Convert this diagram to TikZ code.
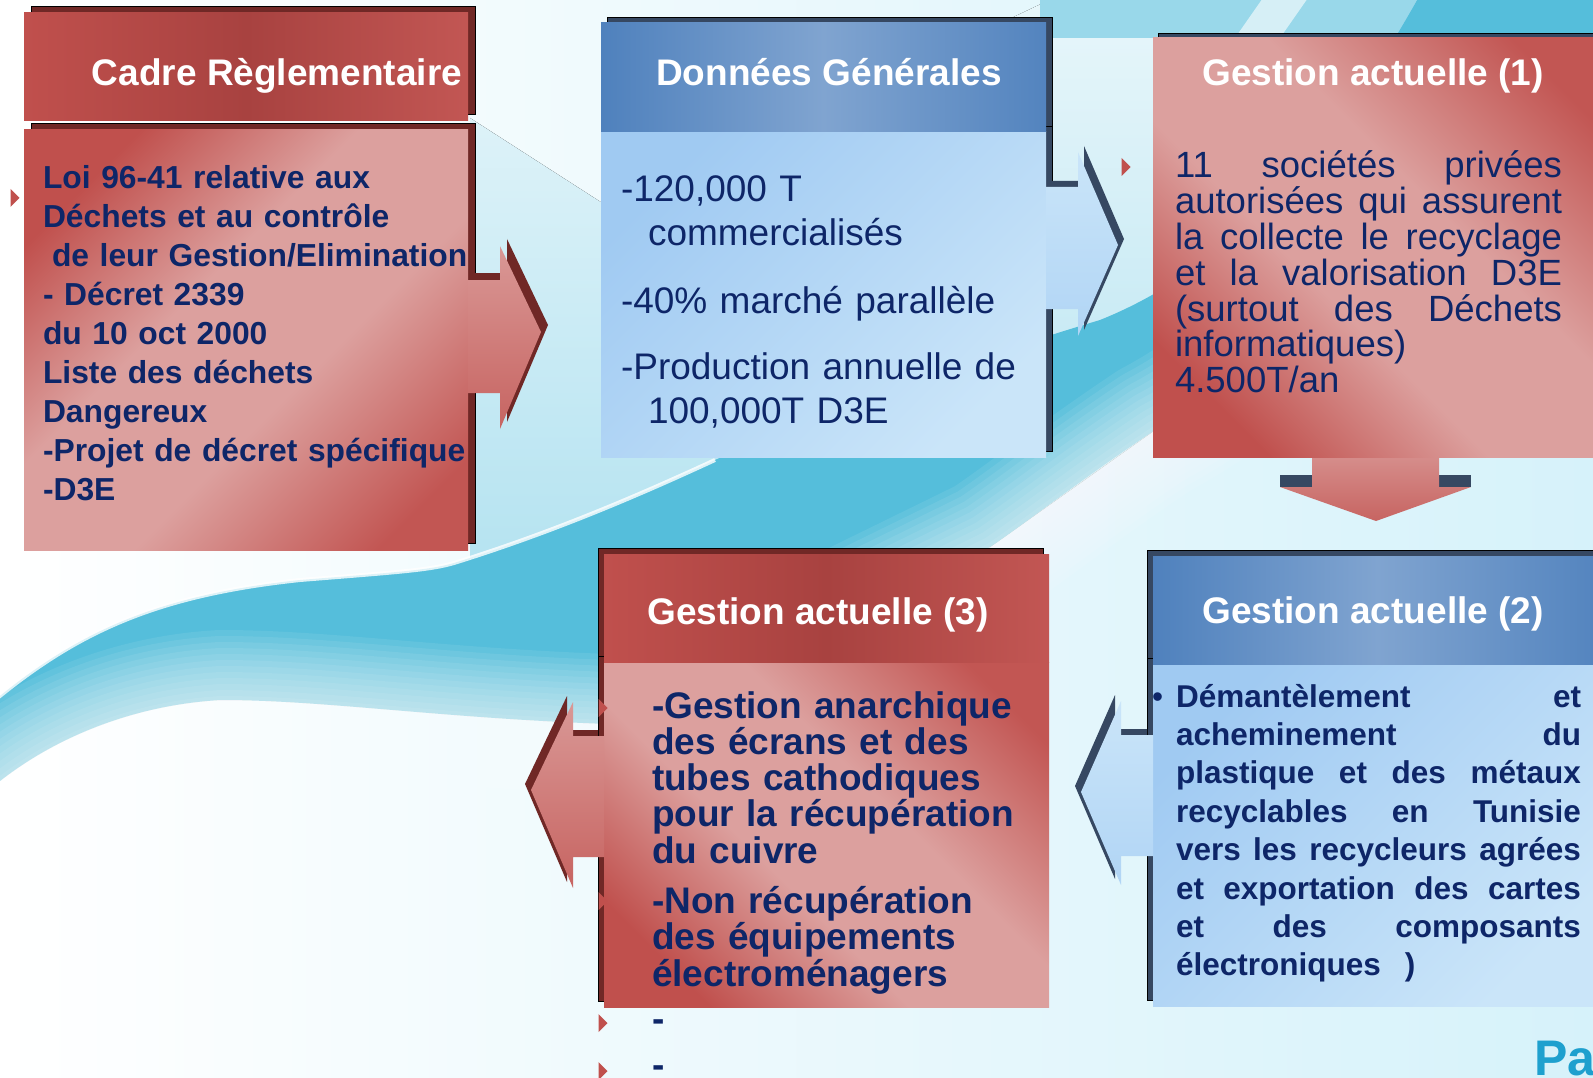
\documentclass[tikz,border=0pt]{standalone}
\usepackage{fontspec}
\setmainfont{Liberation Sans}
\usetikzlibrary{shadows}
\definecolor{navy}{RGB}{14,38,104}
\definecolor{redA}{RGB}{192,80,77}
\definecolor{redB}{RGB}{220,160,158}
\definecolor{redC}{RGB}{168,66,64}
\definecolor{redD}{RGB}{112,40,38}
\definecolor{bluA}{RGB}{79,129,189}
\definecolor{bluB}{RGB}{128,164,208}
\definecolor{bluC}{RGB}{160,202,242}
\definecolor{bluD}{RGB}{202,229,249}
\definecolor{slate}{RGB}{54,72,98}
\definecolor{seaA}{RGB}{70,184,216}
\definecolor{seaB}{RGB}{178,226,240}
\definecolor{skyL}{RGB}{214,242,250}
\definecolor{paBlue}{RGB}{30,160,206}
\pgfdeclarehorizontalshading{rosy}{100bp}{color(0bp)=(redA); color(24bp)=(redA); color(42bp)=(redB); color(58bp)=(redB); color(78bp)=(redA!92!redB); color(100bp)=(redA!92!redB)}
\begin{document}
\begin{tikzpicture}
	[x=1pt,y=-1pt,every node/.style={inner sep=0pt,outer sep=0pt},
	face/.style={rectangle,anchor=north west},
	redtop/.style={face,left color=redA,right color=redA!92!redB,middle color=redC},
	redbody/.style={face,shade,shading=rosy,shading angle=-45},
	redbodyb/.style={face,shade,shading=rosy,shading angle=45},
	bluetop/.style={face,left color=bluA,right color=bluA!92!bluB,middle color=bluB},
	bluebody/.style={face,left color=bluC,right color=bluD,shading angle=45},
	redne/.style={copy shadow={shadow xshift=7pt,shadow yshift=7pt,fill=redD}},
	slatene/.style={copy shadow={shadow xshift=6pt,shadow yshift=6pt,fill=slate}},
	rednw/.style={copy shadow={shadow xshift=-6pt,shadow yshift=6pt,fill=redD}},
	slatenw/.style={copy shadow={shadow xshift=-6pt,shadow yshift=6pt,fill=slate}},
	redarrow/.style={top color=redB!90!redA,bottom color=redA!75!redB},
	bluearrow/.style={top color=bluD,bottom color=bluC!60!bluD},
	hd/.style={anchor=base,text=white,font=\fontsize{37}{40}\selectfont\bfseries},
	lawtxt/.style={anchor=base west,text=navy,align=left,text width=430pt,font=\fontsize{31.8}{39}\selectfont\bfseries},
	datatxt/.style={anchor=base west,text=navy,align=left,text width=425pt,font=\fontsize{37}{44}\selectfont},
	gestA/.style={anchor=base west,text=navy,align=left,text width=390pt,font=\fontsize{36.5}{35.8}\selectfont},
	gestB/.style={anchor=base west,text=navy,align=left,text width=410pt,font=\fontsize{31.5}{38.4}\selectfont\bfseries},
	gestC/.style={anchor=base west,text=navy,align=left,text width=395pt,font=\fontsize{37}{36.3}\selectfont\bfseries},
	bulred/.style={fill=redA}]
	\useasboundingbox (0,0) rectangle (1593,1078);
	\clip (0,0) rectangle (1593,1078);
	
	\fill[left color=white,right color=skyL] (0,0) rectangle (1593,1078);
	\fill[top color=seaB!30,bottom color=seaB] (470,118) -- (610,208) -- (1060,-5) -- (1600,-5) -- (1600,100)
		-- (1155,430) -- (990,547) -- (470,600) -- cycle;
	\fill[seaA!55] (1040,-5) rectangle (1600,38);
	\fill[white,opacity=.6] (1265,-5) -- (1310,-5) -- (1280,38) -- (1235,38) -- cycle;
	\fill[white,opacity=.5] (1500,-5) -- (1560,-5) -- (1530,38) -- (1470,38) -- cycle;
	\fill[seaA!92] (-5,700) .. controls (80,630) and (160,595) .. (300,580)
		.. controls (400,572) and (430,570) .. (454,563) .. controls (560,530) and (650,490) .. (715,460)
		.. controls (850,400) and (1000,350) .. (1100,320) .. controls (1250,260) and (1350,120) .. (1420,-5)
		-- (1600,-5) -- (1600,100) .. controls (1400,250) and (1250,380) .. (1155,430)
		.. controls (1080,480) and (1030,520) .. (990,547) -- (800,640) -- (640,725)
		.. controls (450,720) and (330,700) .. (221,700) .. controls (130,705) and (50,740) .. (-5,785) -- cycle;
	\foreach \lw in {140,128,...,8}
		\draw[white,opacity=.08,line width=\lw pt,line join=round] (1600,100) .. controls (1400,250) and (1250,380) .. (1155,430)
			.. controls (1080,480) and (1030,520) .. (990,547) -- (800,640) -- (640,725)
			.. controls (450,720) and (330,700) .. (221,700) .. controls (130,705) and (50,740) .. (-5,785);
	\draw[white,line width=4pt,opacity=.8] (-5,700) .. controls (80,630) and (160,595) .. (300,580)
		.. controls (400,572) and (430,570) .. (454,563) .. controls (560,530) and (650,490) .. (715,460);
	
	\fill[slate] (1280,475) rectangle (1471,487);
	\path[redarrow] (1312,440) -- (1439,440) -- (1439,487) -- (1471,487) -- (1376,521) -- (1280,487) -- (1312,487) -- cycle;
	
	\node[redtop,redne,minimum width=444pt,minimum height=108pt] (h1) at (24,13) {};
	\node[redbody,redne,minimum width=444pt,minimum height=420pt] (b1) at (24,130) {};
	\node[bluebody,slatene,minimum width=445pt,minimum height=325pt] (b2) at (601,132) {};
	\node[bluetop,slatene,minimum width=445pt,minimum height=109pt] (h2) at (601,23) {};
	\node[redbodyb,copy shadow={shadow xshift=5pt,shadow yshift=5pt,fill=slate},minimum width=449pt,minimum height=419pt] (g1) at (1153,38) {};
	\node[redbodyb,rednw,minimum width=445pt,minimum height=345pt] (b4) at (604,662) {};
	\node[redtop,rednw,minimum width=445pt,minimum height=108pt] (h4) at (604,554) {};
	\node[bluebody,slatenw,minimum width=449pt,minimum height=342pt] (b5) at (1153,664) {};
	\node[bluetop,slatenw,minimum width=449pt,minimum height=108pt] (h5) at (1153,556) {};
	
	\path[redarrow,preaction={fill=redD,transform canvas={xshift=7pt,yshift=7pt}}]
		(b1.east |- 0,280) -- (500,280) -- (500,246) -- (541,332) -- (500,429) -- (500,393) -- (b1.east |- 0,393) -- cycle;
	\path[bluearrow,preaction={fill=slate,transform canvas={xshift=6pt,yshift=6pt}}]
		(b2.east |- 0,187) -- (1078,187) -- (1078,152) -- (1118,245) -- (1078,336) -- (1078,309) -- (b2.east |- 0,309) -- cycle;
	\path[redarrow,preaction={fill=redD,transform canvas={xshift=-6pt,yshift=6pt}}]
		(b4.west |- 0,736) -- (573,736) -- (573,702) -- (531,790) -- (573,888) -- (573,857) -- (b4.west |- 0,857) -- cycle;
	\path[bluearrow,preaction={fill=slate,transform canvas={xshift=-6pt,yshift=6pt}}]
		(b5.west |- 0,735) -- (1121,735) -- (1121,701) -- (1081,792) -- (1121,885) -- (1121,856) -- (b5.west |- 0,856) -- cycle;
	
	\node[hd] (t1) at (277,86) {Cadre Règlementaire};
	\node[hd] (t2) at (829,86) {Données Générales};
	\node[hd] (t3) at (1373,86) {Gestion actuelle (1)};
	\node[hd] (t4) at (818,624) {Gestion actuelle (3)};
	\node[hd] (t5) at (1373,623) {Gestion actuelle (2)};
	
	\node[lawtxt] (x1) at (43,189) {Loi 96-41 relative aux\\
		Déchets et au contrôle\\
		\hspace*{9pt}de leur Gestion/Elimination\\
		- Décret 2339\\
		du 10 oct 2000\\
		Liste des déchets\\
		Dangereux\\
		-Projet de décret spécifique\\
		-D3E};
	\node[datatxt] (x2) at (621,202) {-120,000 T\\
		\hspace*{27pt}commercialisés\\[24pt]
		-40\% marché parallèle\\[22pt]
		-Production annuelle de\\
		\hspace*{27pt}100,000T D3E};
	\node[gestA] (x3) at (1175,178) {\makebox[387pt]{11\hfill sociétés\hfill privées}\\
		\makebox[387pt]{autorisées\hfill qui\hfill assurent}\\
		\makebox[387pt]{la\hfill collecte\hfill le\hfill recyclage}\\
		\makebox[387pt]{et\hfill la\hfill valorisation\hfill D3E}\\
		\makebox[387pt]{(surtout\hfill des\hfill Déchets}\\
		informatiques)\\
		4.500T/an};
	\node[gestC] (x4) at (652,718) {-Gestion anarchique\\
		des écrans et des\\
		tubes cathodiques\\
		pour la récupération\\
		du cuivre\\[14pt]
		-Non récupération\\
		des équipements\\
		électroménagers};
	\node[anchor=base west,text=navy,font=\fontsize{31.5}{38}\selectfont] (dot5) at (1152,707) {•};
	\node[gestB] (x5) at (1176,707) {\makebox[405pt]{Démantèlement\hfill et}\\
		\makebox[405pt]{acheminement\hfill du}\\
		\makebox[405pt]{plastique\hfill et\hfill des\hfill métaux}\\
		\makebox[405pt]{recyclables\hfill en\hfill Tunisie}\\
		\makebox[405pt]{vers\hfill les\hfill recycleurs\hfill agrées}\\
		\makebox[405pt]{et\hfill exportation\hfill des\hfill cartes}\\
		\makebox[405pt]{et\hfill des\hfill composants}\\
		électroniques\hspace{24pt})};
	
	\foreach \bx/\by in {15/198,1126/167,603/708,603/901,603/1023,603/1071}
		\fill[bulred] (\bx-4.5,\by-9) -- (\bx+4.5,\by) -- (\bx-4.5,\by+9) -- cycle;
	\node[anchor=base west,text=navy,font=\fontsize{37}{40}\selectfont\bfseries] (d1) at (652,1031) {-};
	\node[anchor=base west,text=navy,font=\fontsize{37}{40}\selectfont\bfseries] (d2) at (652,1077) {-};
	\node[anchor=base west,text=paBlue,font=\fontsize{50}{55}\selectfont\bfseries] (pa) at (1534,1075) {Pa};
\end{tikzpicture}
\end{document}
